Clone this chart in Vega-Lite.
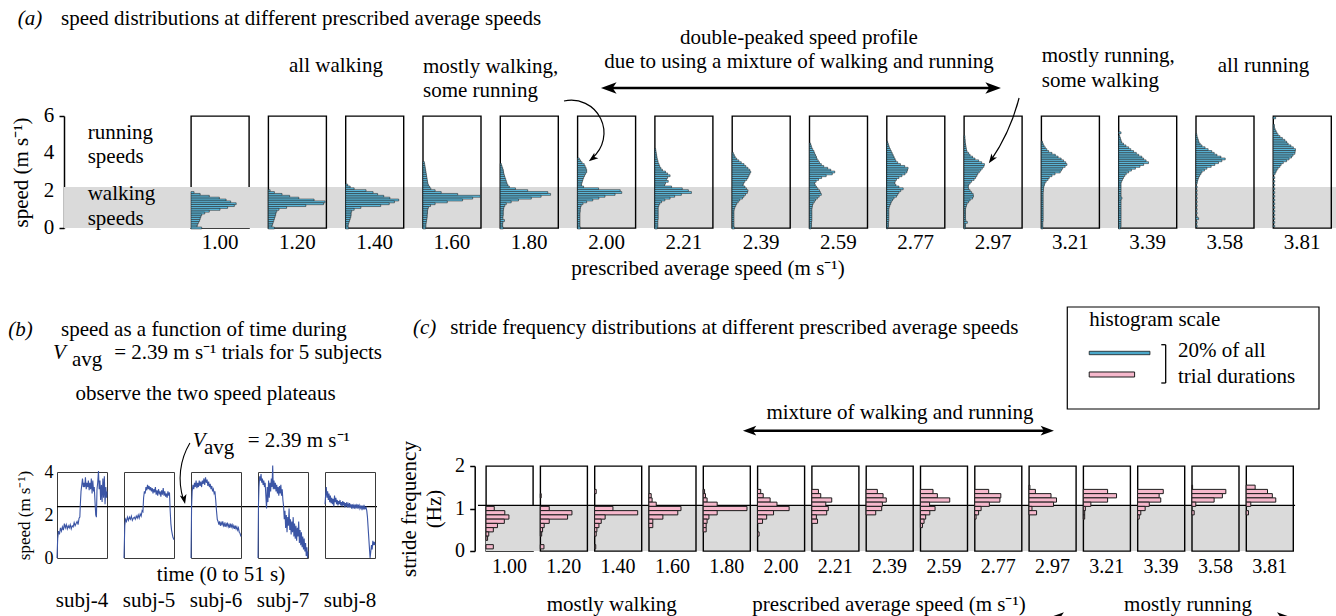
{
"$schema":"https://vega.github.io/schema/vega-lite/v6.json",
"padding":0,
"autosize":{"type":"pad"},
"background":"white",
"datasets":{
"A":[
{"k":"c","v":"1.00"},
{"v":"1.00","s":1.9,"p":1},{"v":"1.00","s":1.8,"p":3},{"v":"1.00","s":1.7,"p":6},{"v":"1.00","s":1.6,"p":9.3},{"v":"1.00","s":1.5,"p":11.5},{"v":"1.00","s":1.4,"p":13},{"v":"1.00","s":1.3,"p":14.8},{"v":"1.00","s":1.2,"p":14.2},{"v":"1.00","s":1.1,"p":12},{"v":"1.00","s":1.0,"p":9.5},{"v":"1.00","s":0.9,"p":6},{"v":"1.00","s":0.8,"p":4.5},{"v":"1.00","s":0.7,"p":3.5},{"v":"1.00","s":0.6,"p":3.2},{"v":"1.00","s":0.5,"p":3},{"v":"1.00","s":0.4,"p":2.8},{"v":"1.00","s":0.3,"p":2.5},{"v":"1.00","s":0.2,"p":2.2},{"v":"1.00","s":0.1,"p":2},{"v":"1.00","s":0.0,"p":3.5},
{"v":"1.20","s":2.0,"p":0.6},{"v":"1.20","s":1.9,"p":2},{"v":"1.20","s":1.8,"p":4.5},{"v":"1.20","s":1.7,"p":7},{"v":"1.20","s":1.6,"p":10},{"v":"1.20","s":1.5,"p":15},{"v":"1.20","s":1.4,"p":18.6},{"v":"1.20","s":1.3,"p":18.1},{"v":"1.20","s":1.2,"p":12.3},{"v":"1.20","s":1.1,"p":6},{"v":"1.20","s":1.0,"p":3.5},{"v":"1.20","s":0.9,"p":2.8},{"v":"1.20","s":0.8,"p":2.5},{"v":"1.20","s":0.7,"p":2.4},{"v":"1.20","s":0.6,"p":2.2},{"v":"1.20","s":0.5,"p":2},{"v":"1.20","s":0.4,"p":1.8},{"v":"1.20","s":0.3,"p":1.6},{"v":"1.20","s":0.2,"p":1.4},{"v":"1.20","s":0.1,"p":1.2},{"v":"1.20","s":0.0,"p":2},
{"v":"1.40","s":2.3,"p":0.7},{"v":"1.40","s":2.2,"p":1.5},{"v":"1.40","s":2.1,"p":2.8},{"v":"1.40","s":2.0,"p":6.7},{"v":"1.40","s":1.9,"p":9},{"v":"1.40","s":1.8,"p":10.5},{"v":"1.40","s":1.7,"p":12.5},{"v":"1.40","s":1.6,"p":14.5},{"v":"1.40","s":1.5,"p":17.4},{"v":"1.40","s":1.4,"p":16},{"v":"1.40","s":1.3,"p":14.3},{"v":"1.40","s":1.2,"p":11.5},{"v":"1.40","s":1.1,"p":5},{"v":"1.40","s":1.0,"p":2.8},{"v":"1.40","s":0.9,"p":2},{"v":"1.40","s":0.8,"p":1.8},{"v":"1.40","s":0.7,"p":1.8},{"v":"1.40","s":0.6,"p":1.7},{"v":"1.40","s":0.5,"p":1.5},{"v":"1.40","s":0.4,"p":1.3},{"v":"1.40","s":0.3,"p":1.1},{"v":"1.40","s":0.2,"p":0.9},{"v":"1.40","s":0.1,"p":0.8},{"v":"1.40","s":0.0,"p":1},
{"v":"1.60","s":3.5,"p":0.5},{"v":"1.60","s":3.4,"p":0.6},{"v":"1.60","s":3.3,"p":0.7},{"v":"1.60","s":3.2,"p":0.8},{"v":"1.60","s":3.1,"p":0.9},{"v":"1.60","s":3.0,"p":1},{"v":"1.60","s":2.9,"p":1.1},{"v":"1.60","s":2.8,"p":1.2},{"v":"1.60","s":2.7,"p":1.3},{"v":"1.60","s":2.6,"p":1.4},{"v":"1.60","s":2.5,"p":1.5},{"v":"1.60","s":2.4,"p":1.6},{"v":"1.60","s":2.3,"p":1.8},{"v":"1.60","s":2.2,"p":2.2},{"v":"1.60","s":2.1,"p":2.6},{"v":"1.60","s":2.0,"p":4},{"v":"1.60","s":1.9,"p":6},{"v":"1.60","s":1.8,"p":11.4},{"v":"1.60","s":1.7,"p":18.8},{"v":"1.60","s":1.6,"p":16.3},{"v":"1.60","s":1.5,"p":13},{"v":"1.60","s":1.4,"p":8},{"v":"1.60","s":1.3,"p":4},{"v":"1.60","s":1.2,"p":2.5},{"v":"1.60","s":1.1,"p":1.8},{"v":"1.60","s":1.0,"p":1.6},{"v":"1.60","s":0.9,"p":1.5},{"v":"1.60","s":0.8,"p":1.5},{"v":"1.60","s":0.7,"p":1.4},{"v":"1.60","s":0.6,"p":1.4},{"v":"1.60","s":0.5,"p":1.3},{"v":"1.60","s":0.4,"p":1.2},{"v":"1.60","s":0.3,"p":1.1},{"v":"1.60","s":0.2,"p":1},{"v":"1.60","s":0.1,"p":1},{"v":"1.60","s":0.0,"p":0.9},
{"v":"1.80","s":3.4,"p":0.4},{"v":"1.80","s":3.3,"p":0.6},{"v":"1.80","s":3.2,"p":0.8},{"v":"1.80","s":3.1,"p":1},{"v":"1.80","s":3.0,"p":1.1},{"v":"1.80","s":2.9,"p":1.2},{"v":"1.80","s":2.8,"p":1.4},{"v":"1.80","s":2.7,"p":1.6},{"v":"1.80","s":2.6,"p":1.8},{"v":"1.80","s":2.5,"p":2},{"v":"1.80","s":2.4,"p":2.2},{"v":"1.80","s":2.3,"p":2.5},{"v":"1.80","s":2.2,"p":3},{"v":"1.80","s":2.1,"p":5},{"v":"1.80","s":2.0,"p":9},{"v":"1.80","s":1.9,"p":15.6},{"v":"1.80","s":1.8,"p":16.5},{"v":"1.80","s":1.7,"p":13.4},{"v":"1.80","s":1.6,"p":10.2},{"v":"1.80","s":1.5,"p":6},{"v":"1.80","s":1.4,"p":3.6},{"v":"1.80","s":1.3,"p":2},{"v":"1.80","s":1.2,"p":1.5},{"v":"1.80","s":1.1,"p":1.2},{"v":"1.80","s":1.0,"p":1.1},{"v":"1.80","s":0.9,"p":1},{"v":"1.80","s":0.8,"p":1},{"v":"1.80","s":0.7,"p":1},{"v":"1.80","s":0.6,"p":0.9},{"v":"1.80","s":0.5,"p":0.9},{"v":"1.80","s":0.4,"p":1.4},{"v":"1.80","s":0.3,"p":0.9},{"v":"1.80","s":0.2,"p":0.8},{"v":"1.80","s":0.1,"p":0.8},{"v":"1.80","s":0.0,"p":1},
{"v":"2.00","s":3.7,"p":0.6},{"v":"2.00","s":3.6,"p":1},{"v":"2.00","s":3.5,"p":1.5},{"v":"2.00","s":3.4,"p":2.2},{"v":"2.00","s":3.3,"p":2.5},{"v":"2.00","s":3.2,"p":2.8},{"v":"2.00","s":3.1,"p":3},{"v":"2.00","s":3.0,"p":3},{"v":"2.00","s":2.9,"p":2.6},{"v":"2.00","s":2.8,"p":2.3},{"v":"2.00","s":2.7,"p":2},{"v":"2.00","s":2.6,"p":1.8},{"v":"2.00","s":2.5,"p":1.6},{"v":"2.00","s":2.4,"p":1.4},{"v":"2.00","s":2.3,"p":1.3},{"v":"2.00","s":2.2,"p":2},{"v":"2.00","s":2.1,"p":6.9},{"v":"2.00","s":2.0,"p":14},{"v":"2.00","s":1.9,"p":14.5},{"v":"2.00","s":1.8,"p":12.3},{"v":"2.00","s":1.7,"p":9},{"v":"2.00","s":1.6,"p":7},{"v":"2.00","s":1.5,"p":5},{"v":"2.00","s":1.4,"p":3},{"v":"2.00","s":1.3,"p":1.8},{"v":"2.00","s":1.2,"p":1.2},{"v":"2.00","s":1.1,"p":1},{"v":"2.00","s":1.0,"p":0.9},{"v":"2.00","s":0.9,"p":0.9},{"v":"2.00","s":0.8,"p":0.8},{"v":"2.00","s":0.7,"p":0.8},{"v":"2.00","s":0.6,"p":0.8},{"v":"2.00","s":0.5,"p":0.8},{"v":"2.00","s":0.4,"p":0.8},{"v":"2.00","s":0.3,"p":0.8},{"v":"2.00","s":0.2,"p":0.8},{"v":"2.00","s":0.1,"p":0.8},{"v":"2.00","s":0.0,"p":1},
{"v":"2.21","s":4.2,"p":0.3},{"v":"2.21","s":4.1,"p":0.4},{"v":"2.21","s":4.0,"p":0.5},{"v":"2.21","s":3.9,"p":0.6},{"v":"2.21","s":3.8,"p":0.7},{"v":"2.21","s":3.7,"p":0.8},{"v":"2.21","s":3.6,"p":1},{"v":"2.21","s":3.5,"p":1.1},{"v":"2.21","s":3.4,"p":1.4},{"v":"2.21","s":3.3,"p":1.6},{"v":"2.21","s":3.2,"p":2},{"v":"2.21","s":3.1,"p":2.5},{"v":"2.21","s":3.0,"p":3.5},{"v":"2.21","s":2.9,"p":4.2},{"v":"2.21","s":2.8,"p":5},{"v":"2.21","s":2.7,"p":4.2},{"v":"2.21","s":2.6,"p":3.8},{"v":"2.21","s":2.5,"p":4.4},{"v":"2.21","s":2.4,"p":3.5},{"v":"2.21","s":2.3,"p":3.2},{"v":"2.21","s":2.2,"p":5.5},{"v":"2.21","s":2.1,"p":9},{"v":"2.21","s":2.0,"p":11},{"v":"2.21","s":1.9,"p":12},{"v":"2.21","s":1.8,"p":8.7},{"v":"2.21","s":1.7,"p":6.5},{"v":"2.21","s":1.6,"p":5},{"v":"2.21","s":1.5,"p":3.3},{"v":"2.21","s":1.4,"p":2.2},{"v":"2.21","s":1.3,"p":1.6},{"v":"2.21","s":1.2,"p":1.3},{"v":"2.21","s":1.1,"p":1.1},{"v":"2.21","s":1.0,"p":1.1},{"v":"2.21","s":0.9,"p":1.1},{"v":"2.21","s":0.8,"p":1.1},{"v":"2.21","s":0.7,"p":1.1},{"v":"2.21","s":0.6,"p":1.1},{"v":"2.21","s":0.5,"p":1.1},{"v":"2.21","s":0.4,"p":1},{"v":"2.21","s":0.3,"p":1},{"v":"2.21","s":0.2,"p":1},{"v":"2.21","s":0.1,"p":1},{"v":"2.21","s":0.0,"p":0.8},
{"v":"2.39","s":4.0,"p":0.4},{"v":"2.39","s":3.9,"p":0.7},{"v":"2.39","s":3.8,"p":1},{"v":"2.39","s":3.7,"p":1.5},{"v":"2.39","s":3.6,"p":2.2},{"v":"2.39","s":3.5,"p":3},{"v":"2.39","s":3.4,"p":3.9},{"v":"2.39","s":3.3,"p":4.5},{"v":"2.39","s":3.2,"p":5.2},{"v":"2.39","s":3.1,"p":5.8},{"v":"2.39","s":3.0,"p":6.1},{"v":"2.39","s":2.9,"p":5.8},{"v":"2.39","s":2.8,"p":5.5},{"v":"2.39","s":2.7,"p":5.2},{"v":"2.39","s":2.6,"p":4.8},{"v":"2.39","s":2.5,"p":4.2},{"v":"2.39","s":2.4,"p":3.8},{"v":"2.39","s":2.3,"p":3.6},{"v":"2.39","s":2.2,"p":4.2},{"v":"2.39","s":2.1,"p":4.7},{"v":"2.39","s":2.0,"p":5.2},{"v":"2.39","s":1.9,"p":5},{"v":"2.39","s":1.8,"p":4.4},{"v":"2.39","s":1.7,"p":3.9},{"v":"2.39","s":1.6,"p":3.4},{"v":"2.39","s":1.5,"p":2.5},{"v":"2.39","s":1.4,"p":2},{"v":"2.39","s":1.3,"p":1.5},{"v":"2.39","s":1.2,"p":1.2},{"v":"2.39","s":1.1,"p":0.9},{"v":"2.39","s":1.0,"p":0.7},{"v":"2.39","s":0.9,"p":0.6},{"v":"2.39","s":0.8,"p":0.6},{"v":"2.39","s":0.7,"p":0.6},{"v":"2.39","s":0.6,"p":0.6},{"v":"2.39","s":0.5,"p":0.6},{"v":"2.39","s":0.4,"p":0.6},{"v":"2.39","s":0.3,"p":0.6},{"v":"2.39","s":0.2,"p":0.6},{"v":"2.39","s":0.1,"p":0.6},{"v":"2.39","s":0.0,"p":0.8},
{"v":"2.59","s":4.5,"p":0.4},{"v":"2.59","s":4.4,"p":0.6},{"v":"2.59","s":4.3,"p":0.8},{"v":"2.59","s":4.2,"p":1.1},{"v":"2.59","s":4.1,"p":1.5},{"v":"2.59","s":4.0,"p":1.7},{"v":"2.59","s":3.9,"p":2},{"v":"2.59","s":3.8,"p":2.3},{"v":"2.59","s":3.7,"p":2.5},{"v":"2.59","s":3.6,"p":2.9},{"v":"2.59","s":3.5,"p":3.3},{"v":"2.59","s":3.4,"p":3.9},{"v":"2.59","s":3.3,"p":4.7},{"v":"2.59","s":3.2,"p":6},{"v":"2.59","s":3.1,"p":7},{"v":"2.59","s":3.0,"p":8.3},{"v":"2.59","s":2.9,"p":7.5},{"v":"2.59","s":2.8,"p":5.5},{"v":"2.59","s":2.7,"p":4},{"v":"2.59","s":2.6,"p":3},{"v":"2.59","s":2.5,"p":2.2},{"v":"2.59","s":2.4,"p":1.7},{"v":"2.59","s":2.3,"p":1.9},{"v":"2.59","s":2.2,"p":2.3},{"v":"2.59","s":2.1,"p":2.8},{"v":"2.59","s":2.0,"p":3.3},{"v":"2.59","s":1.9,"p":3.6},{"v":"2.59","s":1.8,"p":3.9},{"v":"2.59","s":1.7,"p":3.2},{"v":"2.59","s":1.6,"p":2.6},{"v":"2.59","s":1.5,"p":2},{"v":"2.59","s":1.4,"p":1.6},{"v":"2.59","s":1.3,"p":1.2},{"v":"2.59","s":1.2,"p":1},{"v":"2.59","s":1.1,"p":0.9},{"v":"2.59","s":1.0,"p":0.8},{"v":"2.59","s":0.9,"p":0.8},{"v":"2.59","s":0.8,"p":0.8},{"v":"2.59","s":0.7,"p":0.8},{"v":"2.59","s":0.6,"p":0.8},{"v":"2.59","s":0.5,"p":0.8},{"v":"2.59","s":0.4,"p":0.8},{"v":"2.59","s":0.3,"p":0.7},{"v":"2.59","s":0.2,"p":0.7},{"v":"2.59","s":0.1,"p":0.7},{"v":"2.59","s":0.0,"p":0.5},
{"v":"2.77","s":4.6,"p":0.3},{"v":"2.77","s":4.5,"p":0.5},{"v":"2.77","s":4.4,"p":0.7},{"v":"2.77","s":4.3,"p":0.9},{"v":"2.77","s":4.2,"p":1.2},{"v":"2.77","s":4.1,"p":1.5},{"v":"2.77","s":4.0,"p":1.8},{"v":"2.77","s":3.9,"p":2.1},{"v":"2.77","s":3.8,"p":2.4},{"v":"2.77","s":3.7,"p":2.7},{"v":"2.77","s":3.6,"p":3},{"v":"2.77","s":3.5,"p":3.6},{"v":"2.77","s":3.4,"p":4.5},{"v":"2.77","s":3.3,"p":5.9},{"v":"2.77","s":3.2,"p":7},{"v":"2.77","s":3.1,"p":6.8},{"v":"2.77","s":3.0,"p":6.6},{"v":"2.77","s":2.9,"p":6},{"v":"2.77","s":2.8,"p":5},{"v":"2.77","s":2.7,"p":4},{"v":"2.77","s":2.6,"p":3.2},{"v":"2.77","s":2.5,"p":2.8},{"v":"2.77","s":2.4,"p":2.6},{"v":"2.77","s":2.3,"p":3},{"v":"2.77","s":2.2,"p":4},{"v":"2.77","s":2.1,"p":5.4},{"v":"2.77","s":2.0,"p":4.6},{"v":"2.77","s":1.9,"p":4},{"v":"2.77","s":1.8,"p":3.6},{"v":"2.77","s":1.7,"p":3.2},{"v":"2.77","s":1.6,"p":2.4},{"v":"2.77","s":1.5,"p":1.9},{"v":"2.77","s":1.4,"p":1.5},{"v":"2.77","s":1.3,"p":1.3},{"v":"2.77","s":1.2,"p":1},{"v":"2.77","s":1.1,"p":0.8},{"v":"2.77","s":1.0,"p":0.7},{"v":"2.77","s":0.9,"p":0.7},{"v":"2.77","s":0.8,"p":0.7},{"v":"2.77","s":0.7,"p":0.7},{"v":"2.77","s":0.6,"p":0.7},{"v":"2.77","s":0.5,"p":0.7},{"v":"2.77","s":0.4,"p":0.7},{"v":"2.77","s":0.3,"p":0.6},{"v":"2.77","s":0.2,"p":0.6},{"v":"2.77","s":0.1,"p":0.6},{"v":"2.77","s":0.0,"p":0.3},
{"v":"2.97","s":4.9,"p":0.3},{"v":"2.97","s":4.8,"p":0.3},{"v":"2.97","s":4.7,"p":0.4},{"v":"2.97","s":4.6,"p":0.4},{"v":"2.97","s":4.5,"p":0.5},{"v":"2.97","s":4.4,"p":0.6},{"v":"2.97","s":4.3,"p":0.7},{"v":"2.97","s":4.2,"p":0.8},{"v":"2.97","s":4.1,"p":1},{"v":"2.97","s":4.0,"p":1.5},{"v":"2.97","s":3.9,"p":2},{"v":"2.97","s":3.8,"p":2.8},{"v":"2.97","s":3.7,"p":3.6},{"v":"2.97","s":3.6,"p":4.8},{"v":"2.97","s":3.5,"p":5.8},{"v":"2.97","s":3.4,"p":6.7},{"v":"2.97","s":3.3,"p":6.5},{"v":"2.97","s":3.2,"p":6},{"v":"2.97","s":3.1,"p":5.5},{"v":"2.97","s":3.0,"p":5},{"v":"2.97","s":2.9,"p":4.5},{"v":"2.97","s":2.8,"p":4.2},{"v":"2.97","s":2.7,"p":3.8},{"v":"2.97","s":2.6,"p":3.3},{"v":"2.97","s":2.5,"p":2.5},{"v":"2.97","s":2.4,"p":2},{"v":"2.97","s":2.3,"p":1.5},{"v":"2.97","s":2.2,"p":1.4},{"v":"2.97","s":2.1,"p":1.5},{"v":"2.97","s":2.0,"p":2},{"v":"2.97","s":1.9,"p":2.5},{"v":"2.97","s":1.8,"p":3},{"v":"2.97","s":1.7,"p":3.1},{"v":"2.97","s":1.6,"p":2.8},{"v":"2.97","s":1.5,"p":2},{"v":"2.97","s":1.4,"p":1.5},{"v":"2.97","s":1.3,"p":1},{"v":"2.97","s":1.2,"p":0.8},{"v":"2.97","s":1.1,"p":0.6},{"v":"2.97","s":1.0,"p":0.5},{"v":"2.97","s":0.9,"p":0.5},{"v":"2.97","s":0.8,"p":0.5},{"v":"2.97","s":0.7,"p":0.5},{"v":"2.97","s":0.6,"p":0.5},{"v":"2.97","s":0.5,"p":0.5},{"v":"2.97","s":0.4,"p":0.6},{"v":"2.97","s":0.3,"p":1.1},{"v":"2.97","s":0.2,"p":0.5},{"v":"2.97","s":0.1,"p":0.5},{"v":"2.97","s":0.0,"p":0.4},
{"v":"3.21","s":4.6,"p":0.4},{"v":"3.21","s":4.5,"p":0.6},{"v":"3.21","s":4.4,"p":0.9},{"v":"3.21","s":4.3,"p":1.3},{"v":"3.21","s":4.2,"p":1.8},{"v":"3.21","s":4.1,"p":2.4},{"v":"3.21","s":4.0,"p":3.5},{"v":"3.21","s":3.9,"p":4.6},{"v":"3.21","s":3.8,"p":5.5},{"v":"3.21","s":3.7,"p":6.5},{"v":"3.21","s":3.6,"p":7.3},{"v":"3.21","s":3.5,"p":8},{"v":"3.21","s":3.4,"p":8.4},{"v":"3.21","s":3.3,"p":7.8},{"v":"3.21","s":3.2,"p":7},{"v":"3.21","s":3.1,"p":6.6},{"v":"3.21","s":3.0,"p":6.2},{"v":"3.21","s":2.9,"p":4.5},{"v":"3.21","s":2.8,"p":3.5},{"v":"3.21","s":2.7,"p":2.6},{"v":"3.21","s":2.6,"p":2.2},{"v":"3.21","s":2.5,"p":1.6},{"v":"3.21","s":2.4,"p":1.2},{"v":"3.21","s":2.3,"p":1},{"v":"3.21","s":2.2,"p":0.8},{"v":"3.21","s":2.1,"p":0.7},{"v":"3.21","s":2.0,"p":0.7},{"v":"3.21","s":1.9,"p":0.6},{"v":"3.21","s":1.8,"p":0.6},{"v":"3.21","s":1.7,"p":0.6},{"v":"3.21","s":1.6,"p":0.6},{"v":"3.21","s":1.5,"p":0.6},{"v":"3.21","s":1.4,"p":0.6},{"v":"3.21","s":1.3,"p":0.6},{"v":"3.21","s":1.2,"p":0.6},{"v":"3.21","s":1.1,"p":0.6},{"v":"3.21","s":1.0,"p":0.6},{"v":"3.21","s":0.9,"p":0.6},{"v":"3.21","s":0.8,"p":0.6},{"v":"3.21","s":0.7,"p":0.6},{"v":"3.21","s":0.6,"p":0.6},{"v":"3.21","s":0.5,"p":0.6},{"v":"3.21","s":0.4,"p":0.6},{"v":"3.21","s":0.3,"p":0.5},{"v":"3.21","s":0.2,"p":0.5},{"v":"3.21","s":0.1,"p":0.5},{"v":"3.21","s":0.0,"p":0.5},
{"v":"3.39","s":5.1,"p":0.8},{"v":"3.39","s":4.9,"p":0.4},{"v":"3.39","s":4.8,"p":0.6},{"v":"3.39","s":4.7,"p":0.8},{"v":"3.39","s":4.6,"p":1},{"v":"3.39","s":4.5,"p":1.6},{"v":"3.39","s":4.4,"p":2.4},{"v":"3.39","s":4.3,"p":3.3},{"v":"3.39","s":4.2,"p":4},{"v":"3.39","s":4.1,"p":4.9},{"v":"3.39","s":4.0,"p":5.8},{"v":"3.39","s":3.9,"p":6.6},{"v":"3.39","s":3.8,"p":7.6},{"v":"3.39","s":3.7,"p":8.2},{"v":"3.39","s":3.6,"p":9},{"v":"3.39","s":3.5,"p":9.8},{"v":"3.39","s":3.4,"p":8.2},{"v":"3.39","s":3.3,"p":7},{"v":"3.39","s":3.2,"p":5.5},{"v":"3.39","s":3.1,"p":4.2},{"v":"3.39","s":3.0,"p":3.3},{"v":"3.39","s":2.9,"p":2.5},{"v":"3.39","s":2.8,"p":2},{"v":"3.39","s":2.7,"p":1.6},{"v":"3.39","s":2.6,"p":1.3},{"v":"3.39","s":2.5,"p":1},{"v":"3.39","s":2.4,"p":0.8},{"v":"3.39","s":2.3,"p":0.8},{"v":"3.39","s":2.2,"p":0.8},{"v":"3.39","s":2.1,"p":0.8},{"v":"3.39","s":2.0,"p":0.8},{"v":"3.39","s":1.9,"p":0.8},{"v":"3.39","s":1.8,"p":0.8},{"v":"3.39","s":1.7,"p":0.8},{"v":"3.39","s":1.6,"p":1.1},{"v":"3.39","s":1.5,"p":0.8},{"v":"3.39","s":1.4,"p":0.8},{"v":"3.39","s":1.3,"p":0.8},{"v":"3.39","s":1.2,"p":0.8},{"v":"3.39","s":1.1,"p":0.8},{"v":"3.39","s":1.0,"p":0.8},{"v":"3.39","s":0.9,"p":0.8},{"v":"3.39","s":0.8,"p":0.8},{"v":"3.39","s":0.7,"p":0.8},{"v":"3.39","s":0.6,"p":0.8},{"v":"3.39","s":0.5,"p":0.8},{"v":"3.39","s":0.4,"p":0.8},{"v":"3.39","s":0.3,"p":0.8},{"v":"3.39","s":0.2,"p":0.8},{"v":"3.39","s":0.1,"p":0.8},{"v":"3.39","s":0.0,"p":0.6},
{"v":"3.58","s":5.0,"p":0.3},{"v":"3.58","s":4.9,"p":0.4},{"v":"3.58","s":4.8,"p":0.6},{"v":"3.58","s":4.7,"p":0.8},{"v":"3.58","s":4.6,"p":1},{"v":"3.58","s":4.5,"p":1.4},{"v":"3.58","s":4.4,"p":2},{"v":"3.58","s":4.3,"p":3},{"v":"3.58","s":4.2,"p":4},{"v":"3.58","s":4.1,"p":5.2},{"v":"3.58","s":4.0,"p":6},{"v":"3.58","s":3.9,"p":6.9},{"v":"3.58","s":3.8,"p":8.2},{"v":"3.58","s":3.7,"p":9.6},{"v":"3.58","s":3.6,"p":8.5},{"v":"3.58","s":3.5,"p":7.4},{"v":"3.58","s":3.4,"p":6.2},{"v":"3.58","s":3.3,"p":5},{"v":"3.58","s":3.2,"p":3.6},{"v":"3.58","s":3.1,"p":2.8},{"v":"3.58","s":3.0,"p":2},{"v":"3.58","s":2.9,"p":1.6},{"v":"3.58","s":2.8,"p":1.2},{"v":"3.58","s":2.7,"p":0.9},{"v":"3.58","s":2.6,"p":0.7},{"v":"3.58","s":2.5,"p":0.5},{"v":"3.58","s":2.4,"p":0.4},{"v":"3.58","s":2.2,"p":0.4},{"v":"3.58","s":2.0,"p":0.4},{"v":"3.58","s":1.8,"p":0.4},{"v":"3.58","s":1.6,"p":0.4},{"v":"3.58","s":1.4,"p":0.4},{"v":"3.58","s":1.2,"p":0.4},{"v":"3.58","s":1.0,"p":0.4},{"v":"3.58","s":0.8,"p":0.4},{"v":"3.58","s":0.6,"p":0.4},{"v":"3.58","s":0.5,"p":0.9},{"v":"3.58","s":0.3,"p":0.4},{"v":"3.58","s":0.1,"p":0.4},
{"v":"3.81","s":5.9,"p":0.8},{"v":"3.81","s":5.5,"p":0.4},{"v":"3.81","s":5.4,"p":0.4},{"v":"3.81","s":5.3,"p":0.6},{"v":"3.81","s":5.2,"p":0.9},{"v":"3.81","s":5.1,"p":1.2},{"v":"3.81","s":5.0,"p":1.6},{"v":"3.81","s":4.9,"p":2.2},{"v":"3.81","s":4.8,"p":3},{"v":"3.81","s":4.7,"p":3.8},{"v":"3.81","s":4.6,"p":4.4},{"v":"3.81","s":4.5,"p":4.9},{"v":"3.81","s":4.4,"p":5.8},{"v":"3.81","s":4.3,"p":6.6},{"v":"3.81","s":4.2,"p":7.3},{"v":"3.81","s":4.1,"p":7.2},{"v":"3.81","s":4.0,"p":7.1},{"v":"3.81","s":3.9,"p":6.5},{"v":"3.81","s":3.8,"p":6},{"v":"3.81","s":3.7,"p":5.2},{"v":"3.81","s":3.6,"p":4.4},{"v":"3.81","s":3.5,"p":3.3},{"v":"3.81","s":3.4,"p":2.6},{"v":"3.81","s":3.3,"p":2.2},{"v":"3.81","s":3.2,"p":1.6},{"v":"3.81","s":3.1,"p":1.2},{"v":"3.81","s":3.0,"p":0.9},{"v":"3.81","s":2.9,"p":0.6},{"v":"3.81","s":2.7,"p":0.5},{"v":"3.81","s":2.5,"p":0.5},{"v":"3.81","s":2.3,"p":0.5},{"v":"3.81","s":2.1,"p":0.5},{"v":"3.81","s":1.9,"p":0.5},{"v":"3.81","s":1.7,"p":0.5},{"v":"3.81","s":1.5,"p":0.5},{"v":"3.81","s":1.3,"p":0.5},{"v":"3.81","s":1.1,"p":0.5},{"v":"3.81","s":0.9,"p":0.5},{"v":"3.81","s":0.7,"p":0.5},{"v":"3.81","s":0.5,"p":0.5},{"v":"3.81","s":0.3,"p":0.5},{"v":"3.81","s":0.1,"p":0.5}
],
"B":[
{"k":"c","s":"subj-4"},
{"s":"subj-4","t":0,"v":0},{"s":"subj-4","t":0.7,"v":0.9},{"s":"subj-4","t":1.5,"v":1.25},{"s":"subj-4","t":2.5,"v":1.1},{"s":"subj-4","t":3.5,"v":1.4},{"s":"subj-4","t":4.5,"v":1.25},{"s":"subj-4","t":5.5,"v":1.45},{"s":"subj-4","t":6.5,"v":1.3},{"s":"subj-4","t":7.5,"v":1.6},{"s":"subj-4","t":8.5,"v":1.4},{"s":"subj-4","t":9.5,"v":1.55},{"s":"subj-4","t":10.5,"v":1.35},{"s":"subj-4","t":11.5,"v":1.5},{"s":"subj-4","t":12.5,"v":1.4},{"s":"subj-4","t":13.5,"v":1.55},{"s":"subj-4","t":14.5,"v":1.35},{"s":"subj-4","t":15.5,"v":1.5},{"s":"subj-4","t":16.5,"v":1.45},{"s":"subj-4","t":17.5,"v":1.65},{"s":"subj-4","t":18.5,"v":1.5},{"s":"subj-4","t":19.5,"v":1.6},{"s":"subj-4","t":20.5,"v":1.7},{"s":"subj-4","t":21.5,"v":1.55},{"s":"subj-4","t":22.5,"v":1.85},{"s":"subj-4","t":23.3,"v":1.9},{"s":"subj-4","t":23.8,"v":2.5},{"s":"subj-4","t":24.5,"v":3.1},{"s":"subj-4","t":25.3,"v":3.4},{"s":"subj-4","t":26,"v":3.7},{"s":"subj-4","t":26.8,"v":3.3},{"s":"subj-4","t":27.5,"v":3.5},{"s":"subj-4","t":28.3,"v":3.3},{"s":"subj-4","t":29,"v":3.75},{"s":"subj-4","t":29.8,"v":3.2},{"s":"subj-4","t":30.5,"v":3.5},{"s":"subj-4","t":31.3,"v":3.3},{"s":"subj-4","t":32,"v":3.6},{"s":"subj-4","t":32.8,"v":3.15},{"s":"subj-4","t":33.5,"v":3.5},{"s":"subj-4","t":34.3,"v":3.2},{"s":"subj-4","t":35,"v":3.7},{"s":"subj-4","t":35.8,"v":3.0},{"s":"subj-4","t":36.5,"v":3.6},{"s":"subj-4","t":37.3,"v":3.1},{"s":"subj-4","t":38,"v":3.3},{"s":"subj-4","t":38.8,"v":2.6},{"s":"subj-4","t":39.5,"v":2.0},{"s":"subj-4","t":40.2,"v":1.9},{"s":"subj-4","t":40.8,"v":3.2},{"s":"subj-4","t":41.5,"v":3.5},{"s":"subj-4","t":42.3,"v":4.05},{"s":"subj-4","t":43,"v":3.2},{"s":"subj-4","t":43.8,"v":3.6},{"s":"subj-4","t":44.5,"v":2.7},{"s":"subj-4","t":45.3,"v":3.4},{"s":"subj-4","t":46,"v":2.6},{"s":"subj-4","t":46.8,"v":3.7},{"s":"subj-4","t":47.5,"v":2.8},{"s":"subj-4","t":48.3,"v":3.8},{"s":"subj-4","t":49,"v":2.5},{"s":"subj-4","t":49.8,"v":3.3},{"s":"subj-4","t":50.5,"v":2.8},{"s":"subj-4","t":51,"v":3.1},
{"s":"subj-5","t":0,"v":0},{"s":"subj-5","t":0.8,"v":1.5},{"s":"subj-5","t":1.5,"v":1.8},{"s":"subj-5","t":2.5,"v":1.7},{"s":"subj-5","t":3.5,"v":1.9},{"s":"subj-5","t":4.5,"v":1.75},{"s":"subj-5","t":5.5,"v":1.9},{"s":"subj-5","t":6.5,"v":1.8},{"s":"subj-5","t":7.5,"v":1.95},{"s":"subj-5","t":8.5,"v":1.75},{"s":"subj-5","t":9.5,"v":1.85},{"s":"subj-5","t":10.5,"v":1.9},{"s":"subj-5","t":11.5,"v":1.8},{"s":"subj-5","t":12.5,"v":1.95},{"s":"subj-5","t":13.5,"v":1.85},{"s":"subj-5","t":14.5,"v":2.0},{"s":"subj-5","t":15.5,"v":1.85},{"s":"subj-5","t":16.5,"v":2.05},{"s":"subj-5","t":17.5,"v":1.95},{"s":"subj-5","t":18.5,"v":2.2},{"s":"subj-5","t":19.3,"v":2.15},{"s":"subj-5","t":20,"v":2.8},{"s":"subj-5","t":20.8,"v":3.1},{"s":"subj-5","t":21.6,"v":3.0},{"s":"subj-5","t":22.4,"v":3.3},{"s":"subj-5","t":23.2,"v":3.15},{"s":"subj-5","t":24,"v":3.4},{"s":"subj-5","t":24.8,"v":3.2},{"s":"subj-5","t":25.6,"v":3.35},{"s":"subj-5","t":26.4,"v":3.15},{"s":"subj-5","t":27.2,"v":3.3},{"s":"subj-5","t":28,"v":3.1},{"s":"subj-5","t":28.8,"v":3.25},{"s":"subj-5","t":29.6,"v":3.0},{"s":"subj-5","t":30.4,"v":3.2},{"s":"subj-5","t":31.2,"v":3.05},{"s":"subj-5","t":32,"v":3.3},{"s":"subj-5","t":32.8,"v":2.95},{"s":"subj-5","t":33.6,"v":3.15},{"s":"subj-5","t":34.4,"v":2.9},{"s":"subj-5","t":35.2,"v":3.2},{"s":"subj-5","t":36,"v":3.0},{"s":"subj-5","t":36.8,"v":3.1},{"s":"subj-5","t":37.6,"v":2.85},{"s":"subj-5","t":38.4,"v":3.15},{"s":"subj-5","t":39.2,"v":2.95},{"s":"subj-5","t":40,"v":3.25},{"s":"subj-5","t":40.8,"v":2.9},{"s":"subj-5","t":41.6,"v":3.1},{"s":"subj-5","t":42.4,"v":2.85},{"s":"subj-5","t":43.2,"v":3.0},{"s":"subj-5","t":44,"v":2.8},{"s":"subj-5","t":44.8,"v":3.1},{"s":"subj-5","t":45.6,"v":2.9},{"s":"subj-5","t":46.4,"v":3.05},{"s":"subj-5","t":47.1,"v":2.2},{"s":"subj-5","t":47.8,"v":1.6},{"s":"subj-5","t":48.5,"v":1.3},{"s":"subj-5","t":49.3,"v":1.1},{"s":"subj-5","t":50,"v":0.95},{"s":"subj-5","t":51,"v":0.85},
{"s":"subj-6","t":0,"v":0},{"s":"subj-6","t":0.6,"v":2.4},{"s":"subj-6","t":1.2,"v":3.1},{"s":"subj-6","t":2,"v":3.4},{"s":"subj-6","t":2.8,"v":3.2},{"s":"subj-6","t":3.6,"v":3.5},{"s":"subj-6","t":4.4,"v":3.3},{"s":"subj-6","t":5.2,"v":3.6},{"s":"subj-6","t":6,"v":3.25},{"s":"subj-6","t":6.8,"v":3.5},{"s":"subj-6","t":7.6,"v":3.3},{"s":"subj-6","t":8.4,"v":3.6},{"s":"subj-6","t":9.2,"v":3.35},{"s":"subj-6","t":10,"v":3.55},{"s":"subj-6","t":10.8,"v":3.3},{"s":"subj-6","t":11.6,"v":3.6},{"s":"subj-6","t":12.4,"v":3.45},{"s":"subj-6","t":13.2,"v":3.7},{"s":"subj-6","t":14,"v":3.4},{"s":"subj-6","t":14.8,"v":3.75},{"s":"subj-6","t":15.6,"v":3.5},{"s":"subj-6","t":16.4,"v":3.65},{"s":"subj-6","t":17.2,"v":3.35},{"s":"subj-6","t":18,"v":3.55},{"s":"subj-6","t":18.8,"v":3.3},{"s":"subj-6","t":19.6,"v":3.45},{"s":"subj-6","t":20.4,"v":3.2},{"s":"subj-6","t":21.2,"v":3.35},{"s":"subj-6","t":22,"v":3.1},{"s":"subj-6","t":22.8,"v":3.2},{"s":"subj-6","t":23.6,"v":3.0},{"s":"subj-6","t":24.4,"v":3.1},{"s":"subj-6","t":25.2,"v":2.7},{"s":"subj-6","t":26,"v":2.2},{"s":"subj-6","t":26.8,"v":1.8},{"s":"subj-6","t":27.6,"v":1.7},{"s":"subj-6","t":28.4,"v":1.55},{"s":"subj-6","t":29.2,"v":1.7},{"s":"subj-6","t":30,"v":1.5},{"s":"subj-6","t":30.8,"v":1.65},{"s":"subj-6","t":31.6,"v":1.55},{"s":"subj-6","t":32.4,"v":1.7},{"s":"subj-6","t":33.2,"v":1.5},{"s":"subj-6","t":34,"v":1.6},{"s":"subj-6","t":34.8,"v":1.45},{"s":"subj-6","t":35.6,"v":1.6},{"s":"subj-6","t":36.4,"v":1.5},{"s":"subj-6","t":37.2,"v":1.65},{"s":"subj-6","t":38,"v":1.45},{"s":"subj-6","t":38.8,"v":1.55},{"s":"subj-6","t":39.6,"v":1.4},{"s":"subj-6","t":40.4,"v":1.6},{"s":"subj-6","t":41.2,"v":1.45},{"s":"subj-6","t":42,"v":1.55},{"s":"subj-6","t":42.8,"v":1.4},{"s":"subj-6","t":43.6,"v":1.5},{"s":"subj-6","t":44.4,"v":1.35},{"s":"subj-6","t":45.2,"v":1.5},{"s":"subj-6","t":46,"v":1.35},{"s":"subj-6","t":46.8,"v":1.45},{"s":"subj-6","t":47.6,"v":1.3},{"s":"subj-6","t":48.4,"v":1.4},{"s":"subj-6","t":49.2,"v":1.2},{"s":"subj-6","t":50,"v":1.15},{"s":"subj-6","t":51,"v":1.0},
{"s":"subj-7","t":0,"v":0},{"s":"subj-7","t":0.5,"v":2.5},{"s":"subj-7","t":1,"v":3.3},{"s":"subj-7","t":1.7,"v":3.8},{"s":"subj-7","t":2.4,"v":3.6},{"s":"subj-7","t":3.1,"v":3.9},{"s":"subj-7","t":3.8,"v":3.5},{"s":"subj-7","t":4.5,"v":3.7},{"s":"subj-7","t":5.2,"v":3.4},{"s":"subj-7","t":5.9,"v":3.6},{"s":"subj-7","t":6.6,"v":3.3},{"s":"subj-7","t":7.3,"v":3.5},{"s":"subj-7","t":8,"v":2.9},{"s":"subj-7","t":8.7,"v":2.3},{"s":"subj-7","t":9.4,"v":3.3},{"s":"subj-7","t":10.1,"v":2.6},{"s":"subj-7","t":10.8,"v":3.6},{"s":"subj-7","t":11.5,"v":2.8},{"s":"subj-7","t":12.2,"v":3.5},{"s":"subj-7","t":12.9,"v":3.1},{"s":"subj-7","t":13.6,"v":3.7},{"s":"subj-7","t":14.3,"v":3.3},{"s":"subj-7","t":15,"v":4.3},{"s":"subj-7","t":15.6,"v":3.2},{"s":"subj-7","t":16.3,"v":3.6},{"s":"subj-7","t":17,"v":3.2},{"s":"subj-7","t":17.7,"v":3.5},{"s":"subj-7","t":18.4,"v":3.1},{"s":"subj-7","t":19.1,"v":3.4},{"s":"subj-7","t":19.8,"v":3.0},{"s":"subj-7","t":20.5,"v":3.3},{"s":"subj-7","t":21.2,"v":2.9},{"s":"subj-7","t":21.9,"v":3.35},{"s":"subj-7","t":22.6,"v":3.0},{"s":"subj-7","t":23.3,"v":3.4},{"s":"subj-7","t":24,"v":2.9},{"s":"subj-7","t":24.7,"v":3.2},{"s":"subj-7","t":25.4,"v":2.7},{"s":"subj-7","t":26.1,"v":2.4},{"s":"subj-7","t":26.8,"v":1.8},{"s":"subj-7","t":27.5,"v":2.2},{"s":"subj-7","t":28.2,"v":1.4},{"s":"subj-7","t":28.9,"v":2.0},{"s":"subj-7","t":29.6,"v":1.2},{"s":"subj-7","t":30.3,"v":1.9},{"s":"subj-7","t":31,"v":1.5},{"s":"subj-7","t":31.7,"v":2.3},{"s":"subj-7","t":32.4,"v":1.3},{"s":"subj-7","t":33.1,"v":1.8},{"s":"subj-7","t":33.8,"v":1.1},{"s":"subj-7","t":34.5,"v":1.7},{"s":"subj-7","t":35.2,"v":1.2},{"s":"subj-7","t":35.9,"v":1.9},{"s":"subj-7","t":36.6,"v":1.0},{"s":"subj-7","t":37.3,"v":1.6},{"s":"subj-7","t":38,"v":0.9},{"s":"subj-7","t":38.7,"v":1.5},{"s":"subj-7","t":39.4,"v":0.8},{"s":"subj-7","t":40.1,"v":1.4},{"s":"subj-7","t":40.8,"v":1.0},{"s":"subj-7","t":41.5,"v":1.7},{"s":"subj-7","t":42.2,"v":0.7},{"s":"subj-7","t":42.9,"v":1.3},{"s":"subj-7","t":43.6,"v":0.6},{"s":"subj-7","t":44.3,"v":1.2},{"s":"subj-7","t":45,"v":0.5},{"s":"subj-7","t":45.7,"v":1.0},{"s":"subj-7","t":46.4,"v":0.4},{"s":"subj-7","t":47.1,"v":0.9},{"s":"subj-7","t":47.8,"v":0.3},{"s":"subj-7","t":48.5,"v":0.7},{"s":"subj-7","t":49.2,"v":0.1},{"s":"subj-7","t":49.9,"v":0.5},{"s":"subj-7","t":50.5,"v":0.0},{"s":"subj-7","t":51,"v":0.3},
{"s":"subj-8","t":0,"v":2.5},{"s":"subj-8","t":0.6,"v":2.9},{"s":"subj-8","t":1.3,"v":3.3},{"s":"subj-8","t":2,"v":2.8},{"s":"subj-8","t":2.7,"v":3.1},{"s":"subj-8","t":3.4,"v":2.7},{"s":"subj-8","t":4.1,"v":3.0},{"s":"subj-8","t":4.8,"v":2.6},{"s":"subj-8","t":5.5,"v":2.9},{"s":"subj-8","t":6.2,"v":2.55},{"s":"subj-8","t":6.9,"v":2.8},{"s":"subj-8","t":7.6,"v":2.5},{"s":"subj-8","t":8.3,"v":2.75},{"s":"subj-8","t":9,"v":2.4},{"s":"subj-8","t":9.7,"v":2.9},{"s":"subj-8","t":10.4,"v":2.6},{"s":"subj-8","t":11.1,"v":2.8},{"s":"subj-8","t":11.8,"v":2.5},{"s":"subj-8","t":12.5,"v":2.7},{"s":"subj-8","t":13.2,"v":2.45},{"s":"subj-8","t":13.9,"v":2.65},{"s":"subj-8","t":14.6,"v":2.5},{"s":"subj-8","t":15.3,"v":2.7},{"s":"subj-8","t":16,"v":2.45},{"s":"subj-8","t":16.7,"v":2.6},{"s":"subj-8","t":17.4,"v":2.4},{"s":"subj-8","t":18.1,"v":2.65},{"s":"subj-8","t":18.8,"v":2.45},{"s":"subj-8","t":19.5,"v":2.6},{"s":"subj-8","t":20.2,"v":2.35},{"s":"subj-8","t":20.9,"v":2.55},{"s":"subj-8","t":21.6,"v":2.4},{"s":"subj-8","t":22.3,"v":2.6},{"s":"subj-8","t":23,"v":2.35},{"s":"subj-8","t":23.7,"v":2.5},{"s":"subj-8","t":24.4,"v":2.4},{"s":"subj-8","t":25.1,"v":2.55},{"s":"subj-8","t":25.8,"v":2.35},{"s":"subj-8","t":26.5,"v":2.5},{"s":"subj-8","t":27.2,"v":2.3},{"s":"subj-8","t":27.9,"v":2.5},{"s":"subj-8","t":28.6,"v":2.35},{"s":"subj-8","t":29.3,"v":2.45},{"s":"subj-8","t":30,"v":2.3},{"s":"subj-8","t":30.7,"v":2.5},{"s":"subj-8","t":31.4,"v":2.35},{"s":"subj-8","t":32.1,"v":2.45},{"s":"subj-8","t":32.8,"v":2.3},{"s":"subj-8","t":33.5,"v":2.5},{"s":"subj-8","t":34.2,"v":2.35},{"s":"subj-8","t":34.9,"v":2.45},{"s":"subj-8","t":35.6,"v":2.3},{"s":"subj-8","t":36.3,"v":2.4},{"s":"subj-8","t":37,"v":2.3},{"s":"subj-8","t":37.7,"v":2.45},{"s":"subj-8","t":38.4,"v":2.3},{"s":"subj-8","t":39.1,"v":2.4},{"s":"subj-8","t":39.8,"v":2.25},{"s":"subj-8","t":40.5,"v":2.4},{"s":"subj-8","t":41.2,"v":2.3},{"s":"subj-8","t":41.9,"v":2.35},{"s":"subj-8","t":42.6,"v":2.2},{"s":"subj-8","t":43.3,"v":1.9},{"s":"subj-8","t":44,"v":1.4},{"s":"subj-8","t":44.7,"v":0.9},{"s":"subj-8","t":45.4,"v":0.4},{"s":"subj-8","t":46,"v":0.0},{"s":"subj-8","t":46.7,"v":0.3},{"s":"subj-8","t":47.4,"v":0.6},{"s":"subj-8","t":48.1,"v":0.4},{"s":"subj-8","t":48.8,"v":0.8},{"s":"subj-8","t":49.5,"v":0.6},{"s":"subj-8","t":50.2,"v":0.75},{"s":"subj-8","t":51,"v":0.6}
],
"C":[
{"k":"c","v":"1.00"},
{"v":"1.00","f":1.0,"p":3.6},{"v":"1.00","f":0.9,"p":8.2},{"v":"1.00","f":0.8,"p":10},{"v":"1.00","f":0.7,"p":8},{"v":"1.00","f":0.6,"p":5},{"v":"1.00","f":0.5,"p":3.2},{"v":"1.00","f":0.4,"p":1.2},{"v":"1.00","f":0.3,"p":0.7},{"v":"1.00","f":0.1,"p":3.2},
{"v":"1.20","f":1.3,"p":0.4},{"v":"1.20","f":1.0,"p":3.9},{"v":"1.20","f":0.9,"p":13.8},{"v":"1.20","f":0.8,"p":11.9},{"v":"1.20","f":0.7,"p":3.9},{"v":"1.20","f":0.6,"p":1.7},{"v":"1.20","f":0.5,"p":1},{"v":"1.20","f":0.4,"p":0.6},{"v":"1.20","f":0.1,"p":1.6},
{"v":"1.40","f":1.4,"p":0.7},{"v":"1.40","f":1.0,"p":8},{"v":"1.40","f":0.9,"p":18.8},{"v":"1.40","f":0.8,"p":4.6},{"v":"1.40","f":0.7,"p":2.9},{"v":"1.40","f":0.6,"p":1.9},{"v":"1.40","f":0.5,"p":1},{"v":"1.40","f":0.4,"p":0.7},{"v":"1.40","f":0.1,"p":0.5},
{"v":"1.60","f":1.3,"p":1},{"v":"1.60","f":1.2,"p":1.4},{"v":"1.60","f":1.1,"p":3.2},{"v":"1.60","f":1.0,"p":14},{"v":"1.60","f":0.9,"p":12.6},{"v":"1.60","f":0.8,"p":6.1},{"v":"1.60","f":0.7,"p":1.7},{"v":"1.60","f":0.6,"p":1.7},
{"v":"1.80","f":1.4,"p":0.6},{"v":"1.80","f":1.3,"p":1},{"v":"1.80","f":1.2,"p":1.7},{"v":"1.80","f":1.1,"p":6.1},{"v":"1.80","f":1.0,"p":19.1},{"v":"1.80","f":0.9,"p":6.1},{"v":"1.80","f":0.8,"p":2.5},{"v":"1.80","f":0.7,"p":1.7},{"v":"1.80","f":0.6,"p":1.3},{"v":"1.80","f":0.5,"p":1.3},
{"v":"2.00","f":1.4,"p":1.4},{"v":"2.00","f":1.3,"p":2.5},{"v":"2.00","f":1.2,"p":5.5},{"v":"2.00","f":1.1,"p":8.5},{"v":"2.00","f":1.0,"p":13.8},{"v":"2.00","f":0.9,"p":7},{"v":"2.00","f":0.8,"p":4},{"v":"2.00","f":0.7,"p":2.2},{"v":"2.00","f":0.4,"p":0.7},
{"v":"2.21","f":1.4,"p":2.9},{"v":"2.21","f":1.3,"p":3.9},{"v":"2.21","f":1.2,"p":8.7},{"v":"2.21","f":1.1,"p":6.1},{"v":"2.21","f":1.0,"p":7.2},{"v":"2.21","f":0.9,"p":6.5},{"v":"2.21","f":0.8,"p":2},{"v":"2.21","f":0.7,"p":2.5},
{"v":"2.39","f":1.4,"p":4.9},{"v":"2.39","f":1.3,"p":7.4},{"v":"2.39","f":1.2,"p":8.8},{"v":"2.39","f":1.1,"p":7.1},{"v":"2.39","f":1.0,"p":6.8},{"v":"2.39","f":0.9,"p":4.2},
{"v":"2.59","f":1.4,"p":5.5},{"v":"2.59","f":1.3,"p":7.4},{"v":"2.59","f":1.2,"p":12.8},{"v":"2.59","f":1.1,"p":4},{"v":"2.59","f":1.0,"p":6.4},{"v":"2.59","f":0.9,"p":4.1},{"v":"2.59","f":0.8,"p":2.3},{"v":"2.59","f":0.7,"p":1.6},{"v":"2.59","f":0.6,"p":0.9},
{"v":"2.77","f":1.4,"p":6.1},{"v":"2.77","f":1.3,"p":11.4},{"v":"2.77","f":1.2,"p":11},{"v":"2.77","f":1.1,"p":6.4},{"v":"2.77","f":1.0,"p":2.8},{"v":"2.77","f":0.9,"p":1.7},{"v":"2.77","f":0.8,"p":0.6},
{"v":"2.97","f":1.5,"p":0.4},{"v":"2.97","f":1.4,"p":2.8},{"v":"2.97","f":1.3,"p":9.6},{"v":"2.97","f":1.2,"p":12},{"v":"2.97","f":1.1,"p":10.7},{"v":"2.97","f":1.0,"p":1.3},{"v":"2.97","f":0.9,"p":3.3},
{"v":"3.21","f":1.4,"p":10.6},{"v":"3.21","f":1.3,"p":14.5},{"v":"3.21","f":1.2,"p":10.6},{"v":"3.21","f":1.1,"p":3.3},{"v":"3.21","f":1.0,"p":0.9},{"v":"3.21","f":0.9,"p":0.6},{"v":"3.21","f":0.8,"p":0.6},
{"v":"3.39","f":1.4,"p":11.2},{"v":"3.39","f":1.3,"p":9.4},{"v":"3.39","f":1.2,"p":10.1},{"v":"3.39","f":1.1,"p":5.1},{"v":"3.39","f":1.0,"p":3.3},{"v":"3.39","f":0.9,"p":1.4},{"v":"3.39","f":0.8,"p":0.7},
{"v":"3.58","f":1.5,"p":0.3},{"v":"3.58","f":1.4,"p":14.8},{"v":"3.58","f":1.3,"p":13.3},{"v":"3.58","f":1.2,"p":9.7},{"v":"3.58","f":1.1,"p":1.7},{"v":"3.58","f":0.9,"p":1},
{"v":"3.81","f":1.5,"p":3.9},{"v":"3.81","f":1.4,"p":9.3},{"v":"3.81","f":1.3,"p":11.4},{"v":"3.81","f":1.2,"p":12.9},{"v":"3.81","f":1.1,"p":2},{"v":"3.81","f":0.9,"p":1}
],
"D":[{"a":1}]
},
"concat":[
{"data":{"name":"D"},"width":1,"height":1,"view":{"stroke":null},"mark":{"type":"point","opacity":0,"size":0.01,"strokeWidth":0},"encoding":{}},
{
"data":{"name":"A"},
"facet":{"column":{"field":"v","type":"ordinal","title":null,"header":{"labelOrient":"bottom","labelPadding":21,"labelBaseline":"alphabetic","labelFontSize":21}}},
"spacing":{"column":19.3},
"bounds":"flush",
"spec":{
"width":58,"height":112,
"layer":[
{"transform":[{"filter":"datum.k=='c'"}],"mark":{"type":"rect","fill":"#dadada"},"encoding":{"x":{"datum":-41.6},"x2":{"datum":375.42},"y":{"datum":0},"y2":{"datum":2.2}}},
{"transform":[{"filter":"datum.k!='c'"},{"bin":{"step":0.1,"extent":[-0.05,6.05],"nice":false},"field":"s","as":["s0","s1"]}],
 "mark":{"type":"rect","fill":"#62c8ee","stroke":"#1b1b1b","strokeWidth":0.55},
 "encoding":{
  "x":{"field":"p","type":"quantitative","scale":{"domain":[0,19],"nice":false,"zero":false},"axis":null},
  "x2":{"datum":0},
  "y":{"field":"s0","type":"quantitative","scale":{"domain":[0,6],"nice":false,"zero":false},"axis":{"title":"speed (m s⁻¹)","values":[0,2,4,6],"labels":false,"offset":127,"tickSize":5,"titlePadding":27,"domainWidth":1.5,"tickWidth":1.5,"titleFontSize":21}},
  "y2":{"field":"s1"}}},
{"transform":[{"filter":"datum.k=='c'"}],
 "layer":[
  {"mark":{"type":"rect","opacity":0},"encoding":{"x":{"datum":-61.914},"x2":{"datum":375.42},"y":{"datum":12.16},"y2":{"datum":-3.375}}},
  {"mark":{"type":"text","text":"6","align":"right"},"encoding":{"x":{"datum":-44.78},"y":{"datum":6}}},
  {"mark":{"type":"text","text":"4","align":"right"},"encoding":{"x":{"datum":-44.78},"y":{"datum":4}}},
  {"mark":{"type":"text","text":"2","align":"right"},"encoding":{"x":{"datum":-44.78},"y":{"datum":2}}},
  {"mark":{"type":"text","text":"0","align":"right"},"encoding":{"x":{"datum":-44.78},"y":{"datum":0}}},
  {"mark":{"type":"text","text":"(a)","align":"left","fontStyle":"italic"},"encoding":{"x":{"datum":-56.77},"y":{"datum":11.18}}},
  {"mark":{"type":"text","text":"speed distributions at different prescribed average speeds","align":"left"},"encoding":{"x":{"datum":-42.59},"y":{"datum":11.18}}},
  {"mark":{"type":"text","text":"all walking","align":"center"},"encoding":{"x":{"datum":47.5},"y":{"datum":8.68}}},
  {"mark":{"type":"text","text":"mostly walking,","align":"left"},"encoding":{"x":{"datum":76.0},"y":{"datum":8.63}}},
  {"mark":{"type":"text","text":"some running","align":"left"},"encoding":{"x":{"datum":76.0},"y":{"datum":7.34}}},
  {"mark":{"type":"text","text":"double-peaked speed profile","align":"center"},"encoding":{"x":{"datum":199.17},"y":{"datum":10.18}}},
  {"mark":{"type":"text","text":"due to using a mixture of walking and running","align":"center"},"encoding":{"x":{"datum":199.17},"y":{"datum":8.89}}},
  {"mark":{"type":"text","text":"mostly running,","align":"left"},"encoding":{"x":{"datum":278.68},"y":{"datum":9.21}}},
  {"mark":{"type":"text","text":"some walking","align":"left"},"encoding":{"x":{"datum":278.68},"y":{"datum":7.875}}},
  {"mark":{"type":"text","text":"all running","align":"center"},"encoding":{"x":{"datum":351.34},"y":{"datum":8.68}}},
  {"mark":{"type":"text","text":"running","align":"left"},"encoding":{"x":{"datum":-33.84},"y":{"datum":5.07}}},
  {"mark":{"type":"text","text":"speeds","align":"left"},"encoding":{"x":{"datum":-33.84},"y":{"datum":3.80}}},
  {"mark":{"type":"text","text":"walking","align":"left"},"encoding":{"x":{"datum":-33.84},"y":{"datum":1.805}}},
  {"mark":{"type":"text","text":"speeds","align":"left"},"encoding":{"x":{"datum":-33.84},"y":{"datum":0.466}}},
  {"mark":{"type":"text","text":"prescribed average speed (m s⁻¹)","align":"center"},"encoding":{"x":{"datum":169.36},"y":{"datum":-2.196}}},
  {"mark":{"type":"rule","strokeWidth":2.5,"color":"black"},"encoding":{"x":{"datum":137.5},"x2":{"datum":262},"y":{"datum":7.5}}},
  {"mark":{"type":"point","shape":"M0,-1L0.65,0.8L0,0.35L-0.65,0.8Z","filled":true,"color":"black","opacity":1,"size":300,"angle":270,"strokeWidth":0},"encoding":{"x":{"datum":137.14},"y":{"datum":7.5}}},
  {"mark":{"type":"point","shape":"M0,-1L0.65,0.8L0,0.35L-0.65,0.8Z","filled":true,"color":"black","opacity":1,"size":300,"angle":90,"strokeWidth":0},"encoding":{"x":{"datum":262.5},"y":{"datum":7.5}}},
  {"mark":{"type":"arc","theta":-0.225,"theta2":2.45,"innerRadius":32.1,"outerRadius":33.3,"fill":"black"},"encoding":{"x":{"datum":124.58},"y":{"datum":5.095}}},
  {"mark":{"type":"point","shape":"M0,-1L0.65,0.8L0,0.35L-0.65,0.8Z","filled":true,"color":"black","opacity":1,"size":110,"angle":233,"strokeWidth":0},"encoding":{"x":{"datum":131.69},"y":{"datum":3.75}}},
  {"mark":{"type":"arc","theta":1.821,"theta2":2.17,"innerRadius":197.2,"outerRadius":198.4,"fill":"black"},"encoding":{"x":{"datum":208.48},"y":{"datum":9.589}}},
  {"mark":{"type":"point","shape":"M0,-1L0.65,0.8L0,0.35L-0.65,0.8Z","filled":true,"color":"black","opacity":1,"size":110,"angle":215,"strokeWidth":0},"encoding":{"x":{"datum":262.34},"y":{"datum":3.70}}}
 ]}
]}
},
{"data":{"name":"D"},"width":1,"height":1,"view":{"stroke":null},"mark":{"type":"point","opacity":0,"size":0.01,"strokeWidth":0},"encoding":{}},
{
"concat":[
{"data":{"name":"D"},"width":1,"height":1,"view":{"stroke":null},"mark":{"type":"point","opacity":0,"size":0.01,"strokeWidth":0},"encoding":{}},
{"data":{"name":"D"},"width":1,"height":1,"view":{"stroke":null},"mark":{"type":"point","opacity":0,"size":0.01,"strokeWidth":0},"encoding":{}},
{
"data":{"name":"B"},
"facet":{"column":{"field":"s","type":"nominal","title":null,"header":{"labelOrient":"bottom","labelPadding":49,"labelBaseline":"alphabetic","labelFontSize":21}}},
"spacing":{"column":17},
"bounds":"flush",
"spec":{
"width":50,"height":86,
"view":{"stroke":"#3a3a3a","strokeWidth":1},
"layer":[
{"transform":[{"filter":"datum.k=='c'"}],"mark":{"type":"rule","strokeWidth":1.2,"color":"black"},"encoding":{"x":{"datum":0},"x2":{"datum":326.4},"y":{"datum":2.39}}},
{"transform":[{"filter":"datum.k!='c'"}],
 "mark":{"type":"line","color":"#3b55a5","strokeWidth":1.1},
 "encoding":{
  "x":{"field":"t","type":"quantitative","scale":{"domain":[0,51],"nice":false,"zero":false},"axis":null},
  "y":{"field":"v","type":"quantitative","scale":{"domain":[0,4],"nice":false,"zero":false},"axis":{"title":"speed (m s⁻¹)","values":[0,2,4],"format":"d","labelOverlap":false,"domain":false,"ticks":false,"labelPadding":4,"titlePadding":11,"labelFontSize":18,"titleFontSize":17}}}},
{"transform":[{"filter":"datum.k=='c'"}],
 "layer":[
  {"mark":{"type":"rect","opacity":0},"encoding":{"x":{"datum":-56.1},"x2":{"datum":342.72},"y":{"datum":12.279},"y2":{"datum":-2.837}}},
  {"mark":{"type":"text","text":"(b)","align":"left","fontStyle":"italic"},"encoding":{"x":{"datum":-49.67},"y":{"datum":10.62}}},
  {"mark":{"type":"text","text":"speed as a function of time during","align":"left"},"encoding":{"x":{"datum":4.08},"y":{"datum":10.62}}},
  {"mark":{"type":"text","text":"V","align":"left","fontStyle":"italic"},"encoding":{"x":{"datum":-4.1},"y":{"datum":9.53}}},
  {"mark":{"type":"text","text":"avg","align":"left"},"encoding":{"x":{"datum":15.3},"y":{"datum":9.21}}},
  {"mark":{"type":"text","text":"= 2.39 m s⁻¹ trials for 5 subjects","align":"left"},"encoding":{"x":{"datum":58.4},"y":{"datum":9.53}}},
  {"mark":{"type":"text","text":"observe the two speed plateaus","align":"center"},"encoding":{"x":{"datum":151.5},"y":{"datum":7.64}}},
  {"mark":{"type":"text","text":"V","align":"left","fontStyle":"italic"},"encoding":{"x":{"datum":138.4},"y":{"datum":5.43}}},
  {"mark":{"type":"text","text":"avg","align":"left"},"encoding":{"x":{"datum":149.9},"y":{"datum":5.10}}},
  {"mark":{"type":"text","text":"= 2.39 m s⁻¹","align":"left"},"encoding":{"x":{"datum":194.5},"y":{"datum":5.43}}},
  {"mark":{"type":"text","text":"time (0 to 51 s)","align":"center"},"encoding":{"x":{"datum":167.3},"y":{"datum":-0.78}}},
  {"mark":{"type":"arc","theta":4.40,"theta2":5.253,"innerRadius":68.2,"outerRadius":69.3,"fill":"black"},"encoding":{"x":{"datum":195.7},"y":{"datum":3.70}}},
  {"mark":{"type":"point","shape":"M0,-1L0.65,0.8L0,0.35L-0.65,0.8Z","filled":true,"color":"black","opacity":1,"size":110,"angle":168,"strokeWidth":0},"encoding":{"x":{"datum":129.5},"y":{"datum":2.75}}}
 ]}
]}
},
{
"data":{"name":"C"},
"facet":{"column":{"field":"v","type":"ordinal","title":null,"header":{"labelOrient":"bottom","labelPadding":22,"labelBaseline":"alphabetic","labelFontSize":20}}},
"spacing":{"column":7.3},
"bounds":"flush",
"spec":{
"width":47,"height":85,
"layer":[
{"transform":[{"filter":"datum.k=='c'"}],"mark":{"type":"rect","fill":"#dadada"},"encoding":{"x":{"datum":0},"x2":{"datum":352.4},"y":{"datum":0},"y2":{"datum":1.075}}},
{"transform":[{"filter":"datum.k=='c'"}],"mark":{"type":"rule","strokeWidth":1.2,"color":"black"},"encoding":{"x":{"datum":-3.49},"x2":{"datum":352.9},"y":{"datum":1.075}}},
{"transform":[{"filter":"datum.k!='c'"},{"bin":{"step":0.1,"extent":[-0.05,2.05],"nice":false},"field":"f","as":["f0","f1"]}],
 "mark":{"type":"rect","fill":"#f6b8cc","stroke":"#1b1b1b","strokeWidth":1},
 "encoding":{
  "x":{"field":"p","type":"quantitative","scale":{"domain":[0,20.5],"nice":false,"zero":false},"axis":null},
  "x2":{"datum":0},
  "y":{"field":"f0","type":"quantitative","scale":{"domain":[0,2],"nice":false,"zero":false},"axis":{"title":["stride frequency","(Hz)"],"values":[0,1,2],"labels":false,"offset":11.3,"tickSize":5,"titlePadding":24,"titleLineHeight":25,"domainWidth":1.5,"tickWidth":1.5,"titleFontSize":21}},
  "y2":{"field":"f1"}}},
{"transform":[{"filter":"datum.k=='c'"}],
 "layer":[
  {"mark":{"type":"rect","opacity":0},"encoding":{"x":{"datum":-39.69},"x2":{"datum":372.05},"y":{"datum":6.047},"y2":{"datum":-1.6}}},
  {"mark":{"type":"text","text":"2","align":"right","fontSize":20},"encoding":{"x":{"datum":-9.16},"y":{"datum":2}}},
  {"mark":{"type":"text","text":"1","align":"right","fontSize":20},"encoding":{"x":{"datum":-9.16},"y":{"datum":1}}},
  {"mark":{"type":"text","text":"0","align":"right","fontSize":20},"encoding":{"x":{"datum":-9.16},"y":{"datum":0}}},
  {"mark":{"type":"text","text":"(c)","align":"left","fontStyle":"italic"},"encoding":{"x":{"datum":-31.84},"y":{"datum":5.247}}},
  {"mark":{"type":"text","text":"stride frequency distributions at different prescribed average speeds","align":"left"},"encoding":{"x":{"datum":-15.57},"y":{"datum":5.247}}},
  {"mark":{"type":"text","text":"mixture of walking and running","align":"center"},"encoding":{"x":{"datum":180.57},"y":{"datum":3.247}}},
  {"mark":{"type":"rule","strokeWidth":2.5,"color":"black"},"encoding":{"x":{"datum":115},"x2":{"datum":245},"y":{"datum":2.831}}},
  {"mark":{"type":"point","shape":"M0,-1L0.65,0.8L0,0.35L-0.65,0.8Z","filled":true,"color":"black","opacity":1,"size":220,"angle":270,"strokeWidth":0},"encoding":{"x":{"datum":115.3},"y":{"datum":2.831}}},
  {"mark":{"type":"point","shape":"M0,-1L0.65,0.8L0,0.35L-0.65,0.8Z","filled":true,"color":"black","opacity":1,"size":220,"angle":90,"strokeWidth":0},"encoding":{"x":{"datum":244.5},"y":{"datum":2.831}}},
  {"mark":{"type":"text","text":"mostly walking","align":"center"},"encoding":{"x":{"datum":54.83},"y":{"datum":-1.264}}},
  {"mark":{"type":"text","text":"prescribed average speed (m s⁻¹)","align":"center"},"encoding":{"x":{"datum":175.78},"y":{"datum":-1.264}}},
  {"mark":{"type":"text","text":"mostly running","align":"center"},"encoding":{"x":{"datum":306.19},"y":{"datum":-1.264}}},
  {"mark":{"type":"rule","strokeWidth":2,"color":"black"},"encoding":{"x":{"datum":249},"x2":{"datum":348},"y":{"datum":-1.553}}},
  {"mark":{"type":"point","shape":"M0,-1L0.65,0.8L0,0.35L-0.65,0.8Z","filled":true,"color":"black","opacity":1,"size":220,"angle":270,"strokeWidth":0},"encoding":{"x":{"datum":249.5},"y":{"datum":-1.553}}},
  {"mark":{"type":"point","shape":"M0,-1L0.65,0.8L0,0.35L-0.65,0.8Z","filled":true,"color":"black","opacity":1,"size":220,"angle":90,"strokeWidth":0},"encoding":{"x":{"datum":347.6},"y":{"datum":-1.553}}},
  {"mark":{"type":"rect","fill":"white","stroke":"black","strokeWidth":1.2},"encoding":{"x":{"datum":253.54},"x2":{"datum":363.33},"y":{"datum":5.741},"y2":{"datum":3.341}}},
  {"mark":{"type":"text","text":"histogram scale","align":"left"},"encoding":{"x":{"datum":263.1},"y":{"datum":5.442}}},
  {"mark":{"type":"rect","fill":"#4aa7c9","stroke":"#1b1b1b","strokeWidth":0.8},"encoding":{"x":{"datum":263.1},"x2":{"datum":289.6},"y":{"datum":4.699},"y2":{"datum":4.619}}},
  {"mark":{"type":"rect","fill":"#f6b8cc","stroke":"#1b1b1b","strokeWidth":1},"encoding":{"x":{"datum":263.1},"x2":{"datum":282.9},"y":{"datum":4.212},"y2":{"datum":4.094}}},
  {"mark":{"type":"rule","strokeWidth":1.3,"color":"black"},"encoding":{"x":{"datum":296.46},"y":{"datum":4.854},"y2":{"datum":3.953}}},
  {"mark":{"type":"rule","strokeWidth":1.3,"color":"black"},"encoding":{"x":{"datum":294.54},"x2":{"datum":296.46},"y":{"datum":4.854}}},
  {"mark":{"type":"rule","strokeWidth":1.3,"color":"black"},"encoding":{"x":{"datum":294.54},"x2":{"datum":296.46},"y":{"datum":3.953}}},
  {"mark":{"type":"text","text":"20% of all","align":"left"},"encoding":{"x":{"datum":301.83},"y":{"datum":4.699}}},
  {"mark":{"type":"text","text":"trial durations","align":"left"},"encoding":{"x":{"datum":301.83},"y":{"datum":4.094}}}
 ]}
]}
}
],
"columns":2,
"spacing":0,
"align":"none",
"bounds":"full"
}
],
"columns":2,
"spacing":0,
"align":"none",
"bounds":"full",
"config":{
"font":"Liberation Serif",
"view":{"stroke":"black","strokeWidth":1.4},
"axis":{"grid":false,"labelFont":"Liberation Serif","titleFont":"Liberation Serif","labelFontSize":20,"titleFontSize":21,"labelColor":"black","titleColor":"black","domainColor":"black","tickColor":"black","titleFontWeight":"normal","labelFlush":false,"labelOverlap":false},
"axisX":{"disable":true},
"header":{"labelFont":"Liberation Serif","labelFontSize":21,"labelColor":"black"},
"text":{"font":"Liberation Serif","fontSize":21,"color":"black","baseline":"middle"}
}
}
